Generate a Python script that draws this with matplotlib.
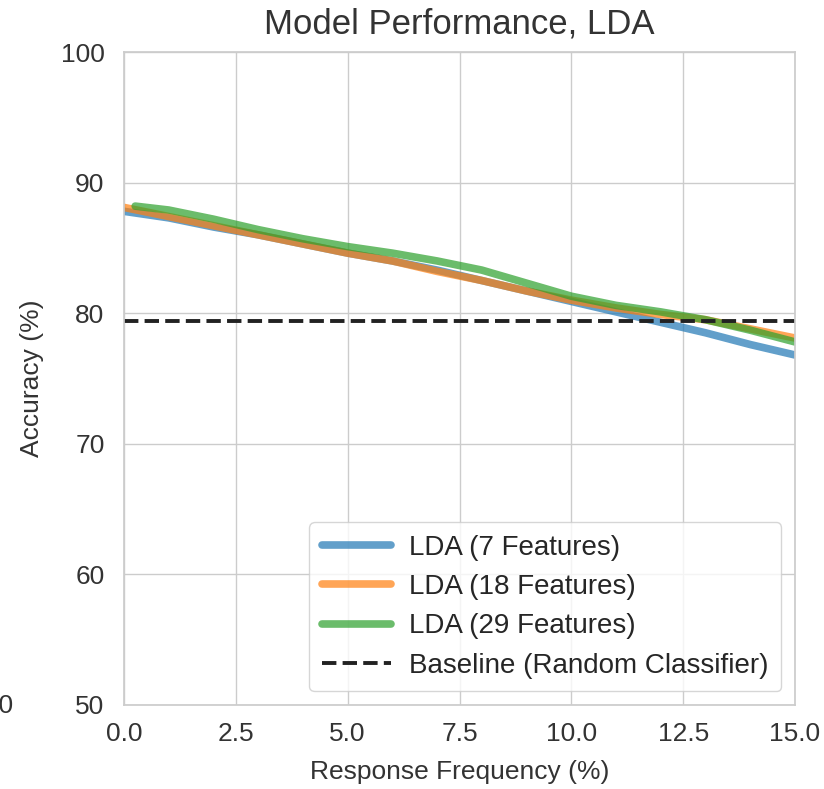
import matplotlib
matplotlib.use("Agg")
import matplotlib.pyplot as plt
import seaborn as sns

sns.set_theme(style="whitegrid")
plt.rcParams["font.family"] = ["Liberation Sans", "DejaVu Sans"]

# Response frequency (%) and accuracy (%)
freq = [0, 1, 2, 3, 4, 5, 6, 7, 8, 9, 10, 11, 12, 13, 14, 15]
acc_7 = [87.8, 87.3, 86.6, 86.0, 85.3, 84.6, 84.0, 83.3, 82.5, 81.7,
         80.9, 80.1, 79.3, 78.5, 77.6, 76.8]
acc_18 = [88.1, 87.4, 86.7, 86.0, 85.3, 84.6, 84.0, 83.2, 82.5, 81.7,
          81.0, 80.4, 79.9, 79.5, 78.8, 78.1]
freq_29 = [0.25, 1, 2, 3, 4, 5, 6, 7, 8, 9, 10, 11, 12, 13, 14, 15]
acc_29 = [88.2, 87.9, 87.2, 86.4, 85.7, 85.1, 84.6, 84.0, 83.3, 82.3,
          81.3, 80.6, 80.1, 79.5, 78.7, 77.8]
baseline = 79.4

fig = plt.figure(figsize=(8.24, 7.89), dpi=100)
ax = fig.add_axes([124 / 824, 1 - 705 / 789, 671 / 824, 653 / 789])

ax.plot(freq, acc_7, color="tab:blue", lw=5.5, alpha=0.7, label="LDA (7 Features)")
ax.plot(freq, acc_18, color="tab:orange", lw=5.5, alpha=0.7, label="LDA (18 Features)")
ax.plot(freq_29, acc_29, color="tab:green", lw=5.5, alpha=0.7, label="LDA (29 Features)")
ax.axhline(baseline, color="#222222", lw=2.8, ls="--", label="Baseline (Random Classifier)")

ax.set_xlim(0, 15)
ax.set_ylim(50, 100)
ax.set_xticks([0, 2.5, 5, 7.5, 10, 12.5, 15])
ax.set_xticklabels(["0.0", "2.5", "5.0", "7.5", "10.0", "12.5", "15.0"])
ax.tick_params(axis="both", labelsize=19, colors="#333333")
ax.tick_params(axis="x", pad=6)
ax.tick_params(axis="y", pad=8)
ax.set_xlabel("Response Frequency (%)", fontsize=19, color="#333333", labelpad=10)
ax.set_ylabel("Accuracy (%)", fontsize=19, color="#333333", labelpad=12)
ax.set_title("Model Performance, LDA", fontsize=25, color="#333333", pad=13)

ax.legend(loc="lower right", fontsize=20, handlelength=2.5, handletextpad=0.65,
          labelspacing=0.48, borderpad=0.45, borderaxespad=0.5, frameon=True)

# clipped tick label from the neighbouring panel at the left edge
fig.text(13 / 824, 1 - 706 / 789, "15.0", fontsize=19, color="#333333",
         ha="right", va="center")

fig.savefig("out.png", dpi=100)
